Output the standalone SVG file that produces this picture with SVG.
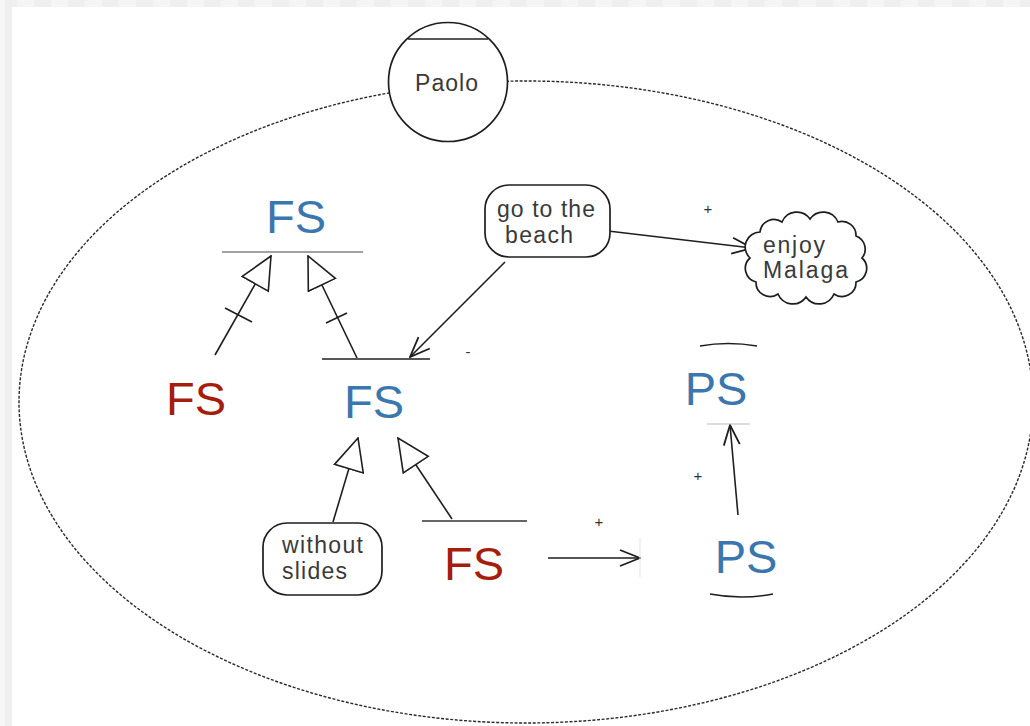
<svg xmlns="http://www.w3.org/2000/svg" width="1030" height="726" viewBox="0 0 1030 726">
  <style>
    .edge { fill: none; stroke: #1e1e1e; stroke-width: 1.6; }
    .shape { fill: #fff; stroke: #1e1e1e; stroke-width: 1.7; }
    .bar { stroke: #1e1e1e; stroke-width: 1.6; }
    .lbl { font-family: "Liberation Sans", Arial, sans-serif; font-size: 23px; fill: #3a3a3a; }
    .sign { font-family: "Liberation Sans", Arial, sans-serif; font-size: 15px; fill: #333; text-anchor: middle; }
    .big { font-family: "Liberation Sans", Arial, sans-serif; font-size: 47px; text-anchor: middle; }
    .blue { fill: #3b77ae; }
    .red { fill: #a61d0c; }
  </style>
  <defs>
    <pattern id="stripe" x="0" y="0" width="34" height="8" patternUnits="userSpaceOnUse">
      <rect width="17" height="8" fill="#efefef"/>
      <rect x="17" width="17" height="8" fill="#f5f5f5"/>
    </pattern>
    <marker id="open" viewBox="0 0 22 20" refX="21" refY="10" markerUnits="userSpaceOnUse" markerWidth="22" markerHeight="20" orient="auto">
      <path d="M1,2 L21,10 L1,18" fill="none" stroke="#1e1e1e" stroke-width="1.8"/>
    </marker>
    <marker id="hollow" viewBox="-1 -1 34 32" refX="32" refY="15" markerUnits="userSpaceOnUse" markerWidth="34" markerHeight="32" orient="auto">
      <path d="M0,0 L32,15 L0,30 Z" fill="#fff" stroke="#1e1e1e" stroke-width="1.6"/>
    </marker>
  </defs>

  <!-- canvas -->
  <rect width="1030" height="726" fill="#fff"/>
  <rect width="1030" height="7" fill="url(#stripe)"/>
  <rect width="5" height="726" fill="#f6f6f6"/>
  <rect x="5" width="7" height="726" fill="#efefef"/>

  <!-- actor boundary -->
  <ellipse id="boundary" cx="526" cy="402" rx="507" ry="321" fill="none" stroke="#2a2a2a" stroke-width="1.4" stroke-dasharray="3 1.6"/>

  <!-- connectors -->
  <g id="connectors">
    <line class="edge" x1="215" y1="355" x2="271" y2="256" marker-end="url(#hollow)"/>
    <line class="edge" x1="225" y1="308" x2="252" y2="322"/>
    <line class="edge" x1="357" y1="358" x2="308" y2="256" marker-end="url(#hollow)"/>
    <line class="edge" x1="326" y1="323" x2="347" y2="313"/>
    <line class="edge" x1="333" y1="522" x2="358" y2="438" marker-end="url(#hollow)"/>
    <line class="edge" x1="452" y1="519" x2="398" y2="438" marker-end="url(#hollow)"/>
    <line class="edge" x1="505" y1="262" x2="410" y2="357" marker-end="url(#open)"/>
    <line class="edge" x1="608" y1="231" x2="752" y2="248" marker-end="url(#open)"/>
    <line class="edge" x1="738" y1="515" x2="730" y2="425" marker-end="url(#open)"/>
    <line class="edge" x1="548" y1="558" x2="640" y2="558" marker-end="url(#open)"/>
    <text class="sign" x="468" y="357">-</text>
    <text class="sign" x="708" y="214">+</text>
    <text class="sign" x="698" y="481">+</text>
    <text class="sign" x="599" y="527">+</text>
  </g>

  <!-- actor -->
  <g id="paolo">
    <circle class="shape" cx="448" cy="82" r="59.5"/>
    <line class="bar" x1="408" y1="39" x2="488" y2="39"/>
    <text class="lbl" x="415" y="91" textLength="63">Paolo</text>
  </g>

  <!-- softgoals -->
  <g id="fs-top">
    <text class="big blue" x="296" y="233">FS</text>
    <line x1="222" y1="252" x2="363" y2="252" stroke="#444" stroke-width="1.1"/>
  </g>

  <g id="fs-left">
    <text class="big red" x="196" y="415">FS</text>
  </g>

  <g id="fs-center">
    <line class="bar" x1="322" y1="359" x2="430" y2="359"/>
    <text class="big blue" x="374" y="418">FS</text>
  </g>

  <g id="fs-bottom">
    <line x1="422" y1="521" x2="527" y2="521" stroke="#333" stroke-width="1.3"/>
    <text class="big red" x="474" y="580">FS</text>
  </g>

  <!-- tasks -->
  <g id="go-to-the-beach">
    <rect class="shape" x="485" y="185" width="125" height="72" rx="24" ry="24"/>
    <text class="lbl" x="497" y="217" textLength="98">go to the</text>
    <text class="lbl" x="505" y="243" textLength="68">beach</text>
  </g>

  <g id="without-slides">
    <rect class="shape" x="263" y="523" width="119" height="72" rx="24" ry="24"/>
    <text class="lbl" x="282" y="553" textLength="81">without</text>
    <text class="lbl" x="282" y="579" textLength="65">slides</text>
  </g>

  <!-- goal -->
  <g id="enjoy-malaga">
    <path class="shape" d="M760,232 A14,14 0 0 1 782,222 A16,16 0 0 1 810,219 A16,16 0 0 1 838,222 A14,14 0 0 1 856,236 A14,14 0 0 1 862,258 A14,14 0 0 1 856,282 A14,14 0 0 1 834,294 A16,16 0 0 1 806,297 A16,16 0 0 1 778,294 A14,14 0 0 1 756,282 A14,14 0 0 1 750,258 A15,15 0 0 1 760,232 Z"/>
    <text class="lbl" x="763" y="253" textLength="62">enjoy</text>
    <text class="lbl" x="763" y="278" textLength="85">Malaga</text>
  </g>

  <!-- positions -->
  <g id="ps-top">
    <path d="M700,346 Q728,341 757,346" fill="none" stroke="#1e1e1e" stroke-width="1.6"/>
    <line x1="707" y1="424" x2="750" y2="424" stroke="#bbb" stroke-width="1"/>
    <text class="big blue" x="716" y="405">PS</text>
  </g>

  <g id="ps-bottom">
    <line x1="640" y1="538" x2="640" y2="577" stroke="#e2e2e2" stroke-width="1"/>
    <path d="M710,594 Q741,600 773,594" fill="none" stroke="#1e1e1e" stroke-width="1.6"/>
    <text class="big blue" x="746" y="573">PS</text>
  </g>
</svg>
